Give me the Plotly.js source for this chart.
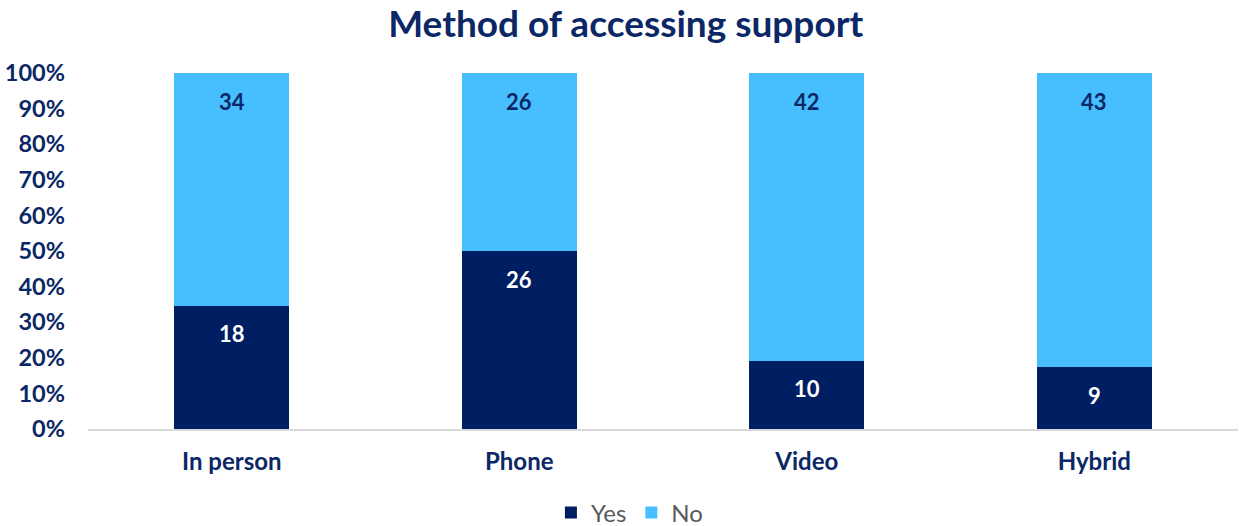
<!DOCTYPE html>
<html>
<head>
<meta charset="utf-8">
<script src="https://cdn.plot.ly/plotly-3.0.1.min.js"></script>
<style>html,body{margin:0;padding:0;background:#fff;}#chart{width:1239px;height:526px;}</style>
</head>
<body>
<div id="chart"></div>
<script>
const categories = ["In person", "Phone", "Video", "Hybrid"];
const yesValues = [18, 26, 10, 9];
const noValues = [34, 26, 42, 43];
const seriesNames = ["Yes", "No"];
const yTickVals = [0,10,20,30,40,50,60,70,80,90,100];
const yTickText = yTickVals.map(v => v + "%");

const navy = "#001E62";
const light = "#47BFFF";
const textNavy = "#0B2766";
const font = "Lato, 'Noto Sans', sans-serif";

const common = {
  type: "bar",
  x: categories,
  textposition: "none",
  hoverinfo: "skip"
};

const traces = [
  Object.assign({}, common, {name: seriesNames[0], y: yesValues, marker: {color: navy}}),
  Object.assign({}, common, {name: seriesNames[1], y: noValues, marker: {color: light}})
];

// value labels placed near the top of each stacked segment (normalised to percent)
const annotations = [];
categories.forEach((c, i) => {
  const total = yesValues[i] + noValues[i];
  const yesTop = yesValues[i] / total * 100;
  annotations.push({x: c, y: yesTop, xref: "x", yref: "y", text: String(yesValues[i]),
    showarrow: false, yanchor: "middle", yshift: -28,
    font: {family: font, size: 22, color: "#FFFFFF", weight: "bold"}});
  annotations.push({x: c, y: 100, xref: "x", yref: "y", text: String(noValues[i]),
    showarrow: false, yanchor: "middle", yshift: -28,
    font: {family: font, size: 22, color: textNavy, weight: "bold"}});
});

const layout = {
  width: 1239, height: 526,
  margin: {l: 88, r: 1, t: 73, b: 97, autoexpand: false},
  paper_bgcolor: "#FFFFFF", plot_bgcolor: "#FFFFFF",
  barmode: "stack", barnorm: "percent", bargap: 0.6,
  showlegend: true,
  annotations: annotations,
  title: {text: "Method of accessing support", x: 0.505, xref: "container", xanchor: "center",
          y: 0.955, yref: "container", yanchor: "middle",
          font: {family: font, size: 37, color: textNavy, weight: "bold"}},
  xaxis: {
    showgrid: false, zeroline: false, showline: true, linecolor: "#D9D9D9", linewidth: 2,
    ticks: "", ticklabelstandoff: 10,
    tickfont: {family: font, size: 24, color: textNavy, weight: "bold"}
  },
  yaxis: {
    range: [0, 100], tickvals: yTickVals, ticktext: yTickText,
    showgrid: false, zeroline: false, showline: false, ticks: "", ticklabelstandoff: 22,
    tickfont: {family: font, size: 23.5, color: textNavy, weight: "bold"}
  },
  legend: {orientation: "h", x: 0.508, xref: "container", xanchor: "center",
           y: 0.025, yref: "container", yanchor: "middle",
           font: {family: font, size: 24, color: "#595959"}, traceorder: "normal", itemwidth: 30}
};

Plotly.newPlot("chart", traces, layout, {displayModeBar: false, staticPlot: true});
</script>
</body>
</html>
